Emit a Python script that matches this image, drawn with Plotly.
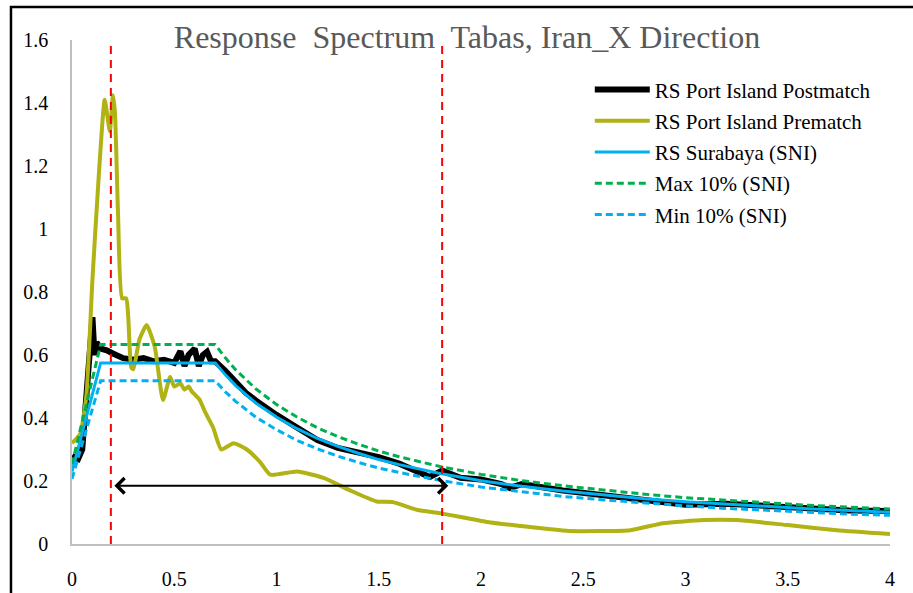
import plotly.graph_objects as go

# ---------------- data ----------------
T_post = [0, 0.03, 0.05, 0.07, 0.09, 0.10, 0.11, 0.12, 0.14, 0.17, 0.20, 0.25, 0.30,
          0.35, 0.40, 0.45, 0.50, 0.53, 0.55, 0.57, 0.60, 0.62, 0.64, 0.66, 0.68, 0.70,
          0.75, 0.80, 0.85, 0.90, 0.95, 1.00, 1.10, 1.20, 1.30, 1.40, 1.50, 1.60, 1.70,
          1.75, 1.81, 1.90, 2.00, 2.10, 2.14, 2.20, 2.40, 2.60, 2.80, 3.00, 3.20, 3.40,
          3.60, 3.80, 4.00]
Sa_post = [0.28, 0.27, 0.30, 0.45, 0.62, 0.72, 0.60, 0.64, 0.62, 0.615, 0.605, 0.59, 0.585,
           0.59, 0.58, 0.585, 0.575, 0.612, 0.565, 0.60, 0.62, 0.565, 0.60, 0.61, 0.58, 0.58,
           0.55, 0.515, 0.48, 0.455, 0.43, 0.41, 0.37, 0.33, 0.305, 0.29, 0.276, 0.255, 0.23,
           0.213, 0.233, 0.21, 0.205, 0.19, 0.178, 0.19, 0.17, 0.155, 0.142, 0.125, 0.128, 0.12,
           0.113, 0.106, 0.105]

T_pre = [0, 0.04, 0.07, 0.10, 0.13, 0.16, 0.185, 0.20, 0.21, 0.225, 0.245, 0.265, 0.275,
         0.29, 0.30, 0.33, 0.365, 0.405, 0.445, 0.48, 0.50, 0.53, 0.55, 0.57, 0.585, 0.625,
         0.65, 0.69, 0.73, 0.79, 0.855, 0.92, 0.97, 1.10, 1.23, 1.36, 1.49, 1.57, 1.69, 1.80,
         2.03, 2.24, 2.44, 2.73, 2.89, 3.09, 3.25, 3.50, 3.74, 4.00]
Sa_pre = [0.32, 0.35, 0.47, 0.84, 1.16, 1.41, 1.31, 1.425, 1.37, 1.05, 0.78, 0.78, 0.72,
          0.56, 0.555, 0.65, 0.695, 0.625, 0.457, 0.53, 0.50, 0.51, 0.49, 0.50, 0.485, 0.457,
          0.42, 0.37, 0.30, 0.32, 0.30, 0.26, 0.22, 0.23, 0.21, 0.17, 0.135, 0.133, 0.108, 0.098,
          0.07, 0.054, 0.041, 0.044, 0.066, 0.076, 0.076, 0.06, 0.044, 0.032]

T_sni = [0, 0.14, 0.70, 0.75, 0.80, 0.90, 1.00, 1.10, 1.20, 1.30, 1.40, 1.50, 1.60, 1.80,
         2.00, 2.20, 2.40, 2.60, 2.80, 3.00, 3.20, 3.40, 3.60, 3.80, 4.00]
Sa_sni = [0.23, 0.575, 0.575, 0.537, 0.503, 0.447, 0.403, 0.366, 0.335, 0.310, 0.288, 0.268,
          0.252, 0.224, 0.201, 0.183, 0.168, 0.155, 0.144, 0.134, 0.126, 0.118, 0.112, 0.106, 0.101]
Sa_max = [0.253, 0.633, 0.633, 0.591, 0.553, 0.492, 0.443, 0.403, 0.369, 0.341, 0.317, 0.295,
          0.277, 0.246, 0.221, 0.201, 0.185, 0.171, 0.158, 0.147, 0.139, 0.130, 0.123, 0.117, 0.111]
Sa_min = [0.207, 0.518, 0.518, 0.483, 0.453, 0.402, 0.363, 0.329, 0.302, 0.279, 0.259, 0.241,
          0.227, 0.202, 0.181, 0.165, 0.151, 0.140, 0.130, 0.121, 0.113, 0.106, 0.101, 0.095, 0.091]

period_marks = [0.19, 1.81]
range_arrow = [0.2, 1.84]
arrow_level = 0.185

series_names = ["RS Port Island Postmatch", "RS Port Island Prematch", "RS Surabaya (SNI)",
                "Max 10% (SNI)", "Min 10% (SNI)"]
title_text = "Response  Spectrum  Tabas, Iran_X Direction"

FONT = "Liberation Serif, Times New Roman, serif"

fig = go.Figure()
fig.add_trace(go.Scatter(x=T_post, y=Sa_post, mode="lines", name=series_names[0],
                         legendgroup="a", line=dict(color="black", width=6)))
fig.add_trace(go.Scatter(x=T_pre, y=Sa_pre, mode="lines", name=series_names[1],
                         legendgroup="b", line=dict(color="#b1b314", width=4,
                                                    shape="spline", smoothing=0.5)))
fig.add_trace(go.Scatter(x=T_sni, y=Sa_sni, mode="lines", name=series_names[2],
                         legendgroup="c", line=dict(color="#00b0f0", width=3)))
fig.add_trace(go.Scatter(x=T_sni, y=Sa_max, mode="lines", name=series_names[3],
                         legendgroup="d", line=dict(color="#00b050", width=3, dash="7px,4px")))
fig.add_trace(go.Scatter(x=T_sni, y=Sa_min, mode="lines", name=series_names[4],
                         legendgroup="e", line=dict(color="#00b0f0", width=3, dash="7px,4px")))

for xv in period_marks:
    fig.add_shape(type="line", xref="x", yref="y", x0=xv, x1=xv, y0=0, y1=1.6,
                  line=dict(color="#ff0000", width=2, dash="8px,6px"))

fig.add_annotation(x=range_arrow[1], y=arrow_level, ax=range_arrow[0], ay=arrow_level,
                   xref="x", yref="y", axref="x", ayref="y", text="", showarrow=True,
                   arrowhead=4, startarrowhead=4, arrowside="end+start",
                   arrowsize=1.5, startarrowsize=1.5, arrowwidth=2, arrowcolor="black")

# outer frame
fig.add_shape(type="rect", xref="paper", yref="paper", x0=-0.0746, x1=1.2,
              y0=-0.3, y1=1.0655, line=dict(color="black", width=2.5), layer="above")

fig.update_layout(
    width=913, height=593,
    margin=dict(l=72, r=23, t=40, b=49, autoexpand=False),
    paper_bgcolor="white", plot_bgcolor="white",
    font=dict(family=FONT, color="black", size=19),
    title=dict(text=title_text, x=467 / 913, xanchor="center", y=1 - 37 / 593,
               yanchor="middle", font=dict(family=FONT, size=32, color="#595959")),
    legend=dict(x=0.633, y=0.942, xanchor="left", yanchor="top",
                bgcolor="rgba(0,0,0,0)", font=dict(family=FONT, size=21, color="black"),
                itemwidth=55, tracegroupgap=1),
    showlegend=True,
)
fig.update_xaxes(range=[0, 4], dtick=0.5, tick0=0, showgrid=False, zeroline=False,
                 showline=True, linecolor="#bfbfbf", linewidth=1.5, automargin=False,
                 ticks="", ticklabelstandoff=16, tickfont=dict(size=20))
fig.update_yaxes(range=[0, 1.6], dtick=0.2, tick0=0, showgrid=False, zeroline=False,
                 showline=True, linecolor="#bfbfbf", linewidth=1.5, automargin=False,
                 ticks="", ticklabelstandoff=18, tickfont=dict(size=20))

# remove the default 8px page margin so the figure sits at the window origin
fig.write_html("out.html", config={"displayModeBar": False},
               post_script="document.body.style.margin='0';document.body.style.overflow='hidden';")
